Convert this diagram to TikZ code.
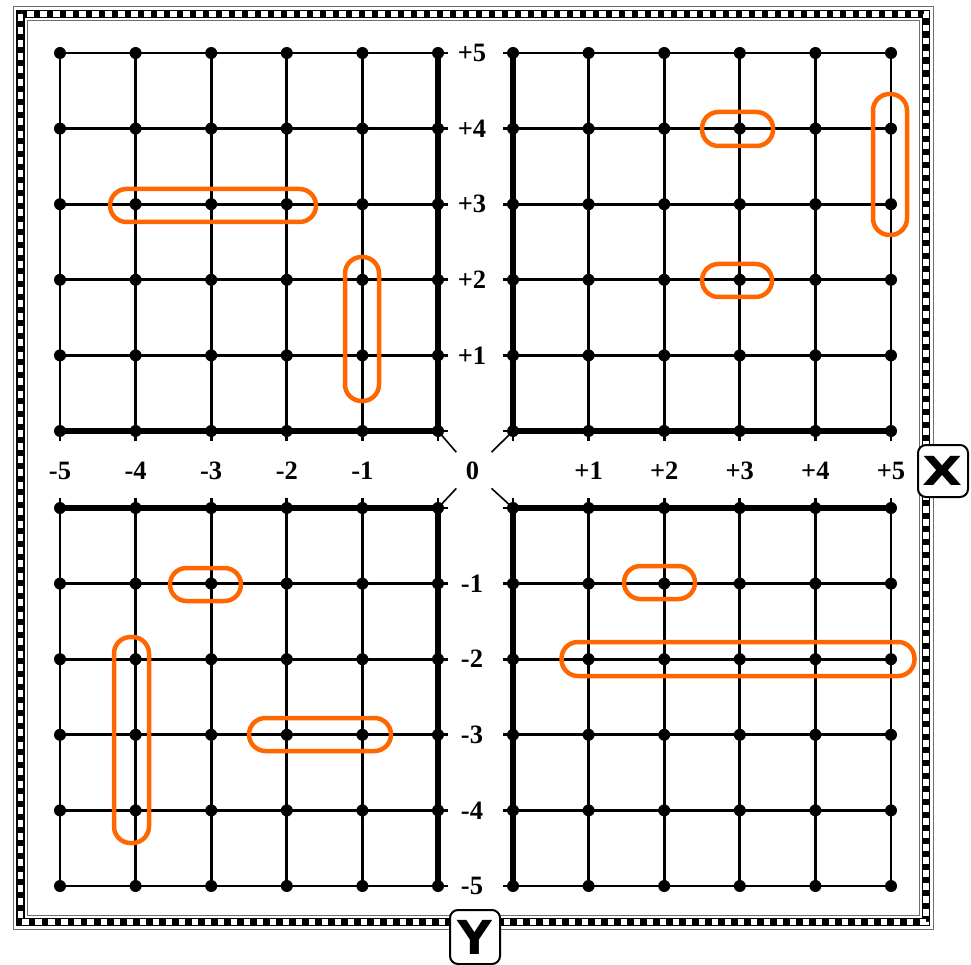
\documentclass[tikz,border=0pt]{standalone}
\usepackage{fontspec}
\setmainfont{Liberation Serif}
\newfontfamily\keyfont{DejaVu Sans}
\usetikzlibrary{calc}
\definecolor{orng}{RGB}{255,102,0}
\definecolor{framegray}{RGB}{110,110,110}
\begin{document}
\begin{tikzpicture}[x=1pt,y=-1pt,
  thinline/.style={line width=2.8pt},
  thickline/.style={line width=5.5pt,line join=miter},
  dot/.style={circle,fill=black,inner sep=0pt,minimum size=12pt},
  lbl/.style={font=\fontsize{26.5}{26.5}\selectfont\bfseries,inner sep=0pt},
  loopbox/.style={draw=orng,line width=4.5pt,rounded corners=16.5pt},
  keybox/.style={draw,line width=2pt,rounded corners=8pt,fill=white,minimum width=50pt,minimum height=52pt,inner sep=0pt,font=\keyfont\bfseries\fontsize{40}{40}\selectfont},
  diag/.style={line width=1.6pt},
  frameline/.style={draw=framegray,line width=1pt}]
\useasboundingbox (0,0) rectangle (971,965);

% frame
\draw[frameline] (13,7) rectangle (933.5,929);
\draw[line width=8.5pt] (20.5,14) rectangle (926,922);
\draw[white,line width=5.8pt,dash pattern=on 6.8pt off 6.2pt] (20.5,14) rectangle (926,922);
\draw[frameline] (27,20.5) rectangle (919.5,915.5);

% thin grid lines with stubs toward the axes
\foreach \q/\ox/\oy/\sl/\sr/\st/\sb in {ul/60/53/0/10/0/10, ur/513/53/10/0/0/10, ll/60/508/0/10/10/0, lr/513/508/10/0/10/0}{
  \foreach \i in {0,...,5}{
    \draw[thinline] ({\ox-\sl},{\oy+\i*75.6}) -- ({\ox+378+\sr},{\oy+\i*75.6});
    \draw[thinline] ({\ox+\i*75.6},{\oy-\st}) -- ({\ox+\i*75.6},{\oy+378+\sb});
  }
}

% thick axis-side edges
\coordinate (cul) at (438,431);
\coordinate (cur) at (513,431);
\coordinate (cll) at (438,508);
\coordinate (clr) at (513,508);
\draw[thickline] (438,53) -- (cul) -- (60,431);
\draw[thickline] (513,53) -- (cur) -- (891,431);
\draw[thickline] (438,886) -- (cll) -- (60,508);
\draw[thickline] (513,886) -- (clr) -- (891,508);

% dots
\foreach \q/\ox/\oy in {ul/60/53, ur/513/53, ll/60/508, lr/513/508}{
  \foreach \i in {0,...,5}{
    \foreach \j in {0,...,5}{
      \node[dot] (\q-\i-\j) at ({\ox+\i*75.6},{\oy+\j*75.6}) {};
    }
  }
}

% centre label and diagonals
\node[lbl] (zero) at (472.5,471) {0};
\foreach \c in {cul,cur,cll,clr}{
  \draw[diag] (\c) -- ($(\c)!0.53!(zero)$);
}

% axis labels
\foreach \txt/\x [count=\k] in {-5/60, -4/135.6, -3/211.2, -2/286.8, -1/362.4, +1/588.6, +2/664.2, +3/739.8, +4/815.4, +5/891}{
  \node[lbl] (xl\k) at (\x,471) {\txt};
}
\foreach \txt/\y [count=\k] in {+5/53, +4/128.6, +3/204.2, +2/279.8, +1/355.4, -1/583.6, -2/659.2, -3/734.8, -4/810.4, -5/886}{
  \node[lbl] (yl\k) at (472,\y) {\txt};
}

% orange loops
\draw[loopbox] (110,189) rectangle (316,222);
\draw[loopbox] (345,257) rectangle (379,401);
\draw[loopbox] (702,112) rectangle (773,146);
\draw[loopbox] (873,94) rectangle (907,235);
\draw[loopbox] (702,264) rectangle (772,297);
\draw[loopbox] (170,568) rectangle (241,601);
\draw[loopbox] (114,637) rectangle (149,843);
\draw[loopbox] (249,718) rectangle (391,751);
\draw[loopbox] (624,566) rectangle (695,599);
\draw[loopbox] (561.5,642) rectangle (914.5,676);

% key boxes
\node[keybox] (xkey) at (943,471) {\scalebox{1.3}[1]{X}};
\node[keybox,minimum height=54pt] (ykey) at (475,937) {\scalebox{1.2}[1.17]{Y}};
\end{tikzpicture}
\end{document}
